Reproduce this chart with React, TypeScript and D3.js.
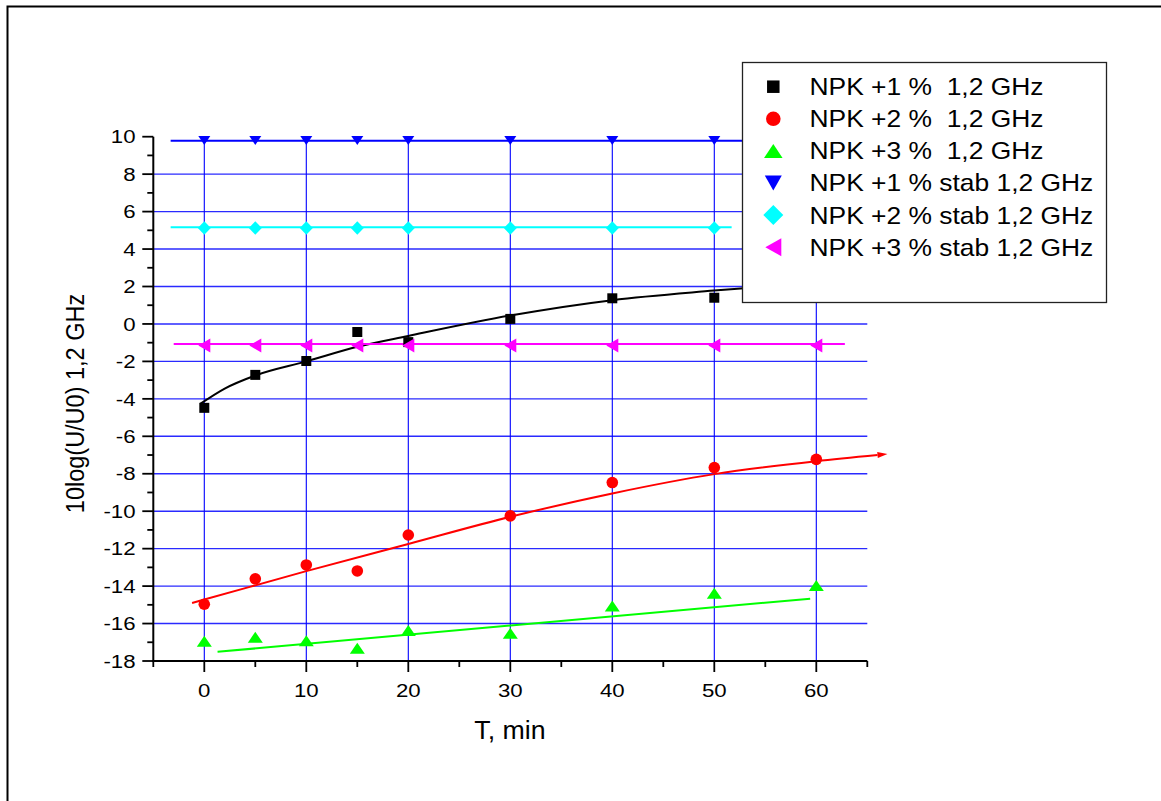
import React from "react";
import * as d3 from "d3";

// ---- data ----
const times = [0, 5, 10, 15, 20, 30, 40, 50, 60];
const npk1 = [-4.48, -2.72, -1.98, -0.43, -0.97, 0.27, 1.37, 1.4, 2.2];
const npk2 = [-14.97, -13.61, -12.87, -13.19, -11.27, -10.25, -8.47, -7.67, -7.23];
const npk3 = [-16.95, -16.73, -16.92, -17.32, -16.37, -16.52, -15.06, -14.38, -13.97];
const stab1 = [9.8, 9.8, 9.8, 9.8, 9.8, 9.8, 9.8, 9.8, 9.8];
const stab2 = [5.12, 5.12, 5.12, 5.12, 5.12, 5.12, 5.12, 5.12, 5.12];
const stab3 = [-1.15, -1.15, -1.15, -1.15, -1.15, -1.15, -1.15, -1.15, -1.15];

// fitted curves (read as points off the picture)
const fit1T = [-0.4, 2, 5, 10, 15, 20, 30, 40, 50, 61];
const fit1V = [-4.27, -3.45, -2.75, -2.0, -1.22, -0.64, 0.45, 1.27, 1.78, 2.25];
const fit2T = [-1.2, 0, 10, 20, 30, 40, 50, 60, 66];
const fit2V = [-14.9, -14.72, -13.2, -11.75, -10.3, -9.05, -8.02, -7.33, -7.0];
const fit3T = [1.3, 59.4];
const fit3V = [-17.51, -14.67];
const fitS1T = [-3.3, 63];
const fitS1V = [9.78, 9.78];
const fitS2T = [-3.3, 51.7];
const fitS2V = [5.16, 5.16];
const fitS3T = [-3.0, 62.8];
const fitS3V = [-1.07, -1.07];

const xMajor = [0, 10, 20, 30, 40, 50, 60];
const xMinor = [-5, 5, 15, 25, 35, 45, 55, 65];
const yMajor = [-18, -16, -14, -12, -10, -8, -6, -4, -2, 0, 2, 4, 6, 8, 10];
const yMinor = [-17, -15, -13, -11, -9, -7, -5, -3, -1, 1, 3, 5, 7, 9];
const yGrid = [-16, -14, -12, -10, -8, -6, -4, -2, 0, 2, 4, 6, 8];

const legendLabels = [
  "NPK +1 %  1,2 GHz",
  "NPK +2 %  1,2 GHz",
  "NPK +3 %  1,2 GHz",
  "NPK +1 % stab 1,2 GHz",
  "NPK +2 % stab 1,2 GHz",
  "NPK +3 % stab 1,2 GHz",
];
const seriesColors = ["#000000", "#ff0000", "#00ff00", "#0000ff", "#00ffff", "#ff00ff"];
const seriesShapes = ["square", "circle", "triUp", "triDown", "diamond", "triLeft"];
const seriesValues = [npk1, npk2, npk3, stab1, stab2, stab3];

const FONT = "'Liberation Sans', Arial, Helvetica, sans-serif";

const plotSizes: Record<string, [number, number]> = {
  square: [10, 10],
  circle: [11.6, 11.6],
  triUp: [15, 11],
  triDown: [12, 9],
  diamond: [13, 13.5],
  triLeft: [12, 14],
};
const legendSizes: Record<string, [number, number]> = {
  square: [12.5, 12.5],
  circle: [14.6, 14.6],
  triUp: [18.5, 14],
  triDown: [17, 15],
  diamond: [20, 20],
  triLeft: [16, 18],
};

function Marker({ shape, x, y, color, size }: any) {
  const [w, h] = size;
  if (shape === "circle") return <circle cx={x} cy={y} r={w / 2} fill={color} />;
  let d = "";
  if (shape === "square") d = `M${-w / 2},${-h / 2}h${w}v${h}h${-w}Z`;
  if (shape === "triUp") d = `M0,${-h / 2}L${w / 2},${h / 2}L${-w / 2},${h / 2}Z`;
  if (shape === "triDown") d = `M${-w / 2},${-h / 2}L${w / 2},${-h / 2}L0,${h / 2}Z`;
  if (shape === "diamond") d = `M0,${-h / 2}L${w / 2},0L0,${h / 2}L${-w / 2},0Z`;
  if (shape === "triLeft") d = `M${-w / 2},0L${w / 2},${-h / 2}L${w / 2},${h / 2}Z`;
  return <path d={d} transform={`translate(${x},${y})`} fill={color} />;
}

function SText({ x, y, sx = 1, size, anchor = "start", children, rotate = false }: any) {
  const tr = rotate
    ? `translate(${x},${y}) rotate(-90) scale(1,${sx})`
    : `translate(${x},${y}) scale(${sx},1)`;
  return (
    <text transform={tr} fontFamily={FONT} fontSize={size} textAnchor={anchor} fill="#000">
      {children}
    </text>
  );
}

export default function App() {
  const x = d3.scaleLinear().domain([-5, 65]).range([153.3, 867.3]);
  const y = d3.scaleLinear().domain([-18, 10]).range([661, 136.7]);

  const lineGen = (ts: number[], vs: number[], smooth = true) =>
    d3
      .line<number>()
      .x((_, i) => x(ts[i]))
      .y((v) => y(v))
      .curve(smooth ? d3.curveMonotoneX : d3.curveLinear)(vs) || "";

  const fits = [
    { t: fit1T, v: fit1V, c: "#000000" },
    { t: fit2T, v: fit2V, c: "#ff0000" },
    { t: fit3T, v: fit3V, c: "#00ff00" },
    { t: fitS1T, v: fitS1V, c: "#0000ff" },
    { t: fitS2T, v: fitS2V, c: "#00ffff" },
    { t: fitS3T, v: fitS3V, c: "#ff00ff" },
  ];

  // arrow at end of red fit
  const n = fit2T.length;
  const ex = x(fit2T[n - 1]);
  const ey = y(fit2V[n - 1]);
  const px = x(fit2T[n - 2]);
  const py = y(fit2V[n - 2]);
  const ang = Math.atan2(ey - py, ex - px);
  const aLen = 10;
  const aW = 3;
  const tipX = ex + aLen * Math.cos(ang);
  const tipY = ey + aLen * Math.sin(ang);
  const b1x = ex - aW * Math.sin(ang);
  const b1y = ey + aW * Math.cos(ang);
  const b2x = ex + aW * Math.sin(ang);
  const b2y = ey - aW * Math.cos(ang);

  const x0 = x.range()[0];
  const x1 = x.range()[1];
  const yB = y.range()[0];
  const yT = y.range()[1];

  const legX = 742.5;
  const legY = 62.5;
  const legW = 364;
  const legH = 240;
  const rowY0 = 86.7;
  const rowDy = 32.1;

  return (
    <svg
      width={1161}
      height={801}
      style={{ position: "absolute", left: 0, top: 0, display: "block", background: "#fff" }}
    >
      <rect x={0} y={0} width={1161} height={801} fill="#fff" />
      {/* outer frame */}
      <rect x={7.5} y={6.5} width={1400} height={1000} fill="none" stroke="#000" strokeWidth={2} />

      {/* grid */}
      {yGrid.map((v) => (
        <line key={"hg" + v} x1={x0} x2={x1} y1={y(v)} y2={y(v)} stroke="#2a2aff" strokeWidth={1.4} />
      ))}
      {xMajor.map((t) => (
        <line key={"vg" + t} x1={x(t)} x2={x(t)} y1={yB} y2={yT} stroke="#0000ff" strokeWidth={1.1} />
      ))}

      {/* fits */}
      {fits.map((f, i) => (
        <path key={"fit" + i} d={lineGen(f.t, f.v)} fill="none" stroke={f.c} strokeWidth={2} />
      ))}
      <path d={`M${tipX},${tipY}L${b1x},${b1y}L${b2x},${b2y}Z`} fill="#ff0000" />

      {/* markers */}
      {seriesValues.map((vals, si) =>
        vals.map((v, i) => (
          <Marker
            key={`m${si}-${i}`}
            shape={seriesShapes[si]}
            x={x(times[i])}
            y={y(v)}
            color={seriesColors[si]}
            size={plotSizes[seriesShapes[si]]}
          />
        ))
      )}

      {/* axes */}
      <line x1={x0} x2={x0} y1={yB + 1} y2={yT} stroke="#000" strokeWidth={2} />
      <line x1={x0 - 1} x2={x1} y1={yB} y2={yB} stroke="#000" strokeWidth={2} />
      {yMajor.map((v) => (
        <line key={"ytm" + v} x1={x0 - 11} x2={x0} y1={y(v)} y2={y(v)} stroke="#000" strokeWidth={1.8} />
      ))}
      {yMinor.map((v) => (
        <line key={"ytn" + v} x1={x0 - 6} x2={x0} y1={y(v)} y2={y(v)} stroke="#000" strokeWidth={1.8} />
      ))}
      {xMajor.map((t) => (
        <line key={"xtm" + t} x1={x(t)} x2={x(t)} y1={yB} y2={yB + 11} stroke="#000" strokeWidth={1.8} />
      ))}
      {xMinor.map((t) => (
        <line key={"xtn" + t} x1={x(t)} x2={x(t)} y1={yB} y2={yB + 6} stroke="#000" strokeWidth={1.8} />
      ))}

      {/* tick labels */}
      {yMajor.map((v) => (
        <SText key={"yl" + v} x={135.5} y={y(v) + 6.7} sx={1.17} size={19} anchor="end">
          {String(v)}
        </SText>
      ))}
      {xMajor.map((t) => (
        <SText key={"xl" + t} x={x(t)} y={696.7} sx={1.17} size={19} anchor="middle">
          {String(t)}
        </SText>
      ))}

      {/* axis titles */}
      <SText x={510} y={739.3} sx={1.07} size={25} anchor="middle">
        T, min
      </SText>
      <SText x={84} y={403.5} sx={1.07} size={23.5} anchor="middle" rotate>
        10log(U/U0) 1,2 GHz
      </SText>

      {/* legend */}
      <rect x={legX} y={legY} width={legW} height={legH} fill="#fff" stroke="#222" strokeWidth={1.3} />
      {legendLabels.map((lab, i) => (
        <g key={"lg" + i}>
          <Marker
            shape={seriesShapes[i]}
            x={773.3}
            y={rowY0 + i * rowDy}
            color={seriesColors[i]}
            size={legendSizes[seriesShapes[i]]}
          />
          <SText x={809.5} y={rowY0 + i * rowDy + 8.4} sx={1.1} size={24}>
            {lab.replace(/ /g, "\u00a0")}
          </SText>
        </g>
      ))}
    </svg>
  );
}
